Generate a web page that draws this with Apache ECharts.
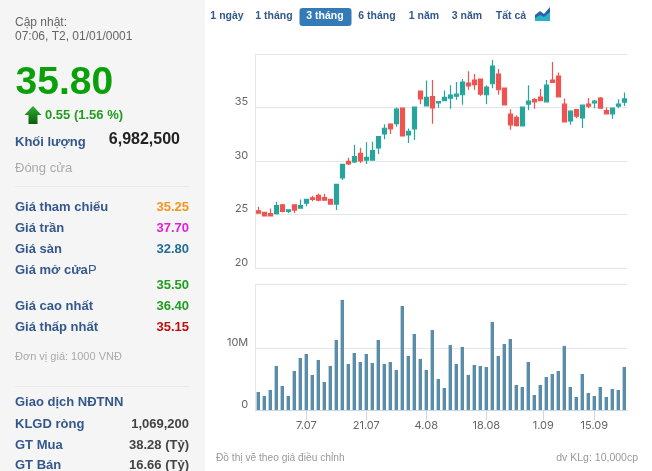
<!DOCTYPE html>
<html><head><meta charset="utf-8">
<style>html,body{margin:0;padding:0;background:#fff}#c{width:652px;height:471px}</style>
<script src="https://cdn.jsdelivr.net/npm/echarts@6/dist/echarts.min.js"></script>
</head><body><div id="c"></div>
<script>
const opens=[25.34,25.19,25.09,25.09,25.91,25.28,25.91,25.59,26.06,26.56,26.78,26.59,26.41,25.97,28.41,29.97,29.91,30.72,30.09,30.09,31.22,32.53,33.44,33.5,34.94,32.44,33.0,36.53,35.16,36.03,35.44,35.63,35.88,36.06,36.19,37.28,37.56,37.66,36.19,37.22,38.13,36.81,34.38,34.09,33.28,35.31,35.75,35.97,35.53,37.56,37.94,35.31,33.75,34.81,34.03,35.31,35.44,35.88,34.72,34.41,35.13,35.5];
const closes=[25.13,24.87,24.87,25.84,25.28,25.44,25.41,25.84,26.41,26.41,26.34,26.34,25.97,27.81,29.69,29.72,30.41,30.0,30.34,30.97,32.28,33.06,33.0,34.84,32.34,32.78,35.03,35.81,35.94,34.97,35.56,35.94,36.16,36.25,37.38,37.03,37.13,36.25,36.91,38.88,36.66,35.25,33.38,33.31,35.03,35.59,35.53,35.63,37.09,37.34,36.0,33.66,34.66,34.19,35.22,35.13,35.59,34.94,34.41,34.94,35.31,35.8];
const lows=[25.06,24.84,24.84,25.0,25.22,25.13,25.13,25.53,25.78,26.25,26.25,26.31,25.94,25.41,28.22,29.63,29.81,29.81,29.72,30.09,30.66,32.03,32.53,33.19,32.34,31.69,31.97,35.31,35.16,33.47,34.97,35.63,34.88,35.72,35.25,36.66,36.66,36.09,35.31,36.81,36.19,35.25,32.91,33.22,33.28,34.75,34.88,35.63,35.53,37.28,36.0,33.59,33.38,34.0,33.09,34.94,34.94,34.88,34.38,33.94,34.94,35.15];
const highs=[25.72,25.25,25.56,26.19,25.97,25.47,25.94,26.41,26.47,26.75,26.97,26.94,26.47,27.81,29.69,30.31,31.53,31.25,31.75,31.81,32.28,33.44,33.53,35.0,34.94,33.03,35.03,36.53,37.53,37.56,35.56,36.59,37.09,37.38,37.66,38.38,38.13,37.66,37.09,39.44,38.59,36.81,34.84,34.28,35.03,37.09,35.88,36.72,37.56,39.25,38.28,35.84,34.75,34.81,35.22,35.88,35.69,35.97,35.0,34.94,35.78,36.4];
const volumes=[2.92,2.27,3.24,7.14,3.89,2.27,6.32,8.43,9.08,5.68,8.11,4.54,7.14,11.35,17.84,7.46,9.24,7.78,9.08,7.62,11.35,7.46,7.78,6.49,16.86,8.76,12.32,8.27,6.49,12.97,5.03,3.57,10.54,7.46,10.22,5.68,7.30,7.14,6.97,14.27,8.76,10.70,11.51,4.05,3.73,7.78,2.43,4.05,5.35,5.84,6.32,10.38,3.73,2.11,5.84,2.76,2.27,3.73,2.11,3.41,3.24,6.98];
const tickIndex=[8,18,28,38,47.5,56];
const tickLabels=['7.07','21.07','4.08','18.08','1.09','15.09'];
const rangeButtons=[['1 ngày',227],['1 tháng',274],['3 tháng',325],['6 tháng',377],['1 năm',424],['3 năm',467],['Tất cả',511]];
const blue='#34588c';
const leftRows=[
 ['Khối lượng',142,blue,'bold 13px'],
 ['Giá tham chiếu',207,blue,'bold 13px'],['Giá trần',228,blue,'bold 13px'],['Giá sàn',249,blue,'bold 13px'],
 ['Giá mở cửa',270,blue,'bold 13px'],['Giá cao nhất',306,blue,'bold 13px'],['Giá thấp nhất',327,blue,'bold 13px'],
 ['Giao dịch NĐTNN',402,blue,'bold 13px'],['KLGD ròng',424,blue,'bold 13px'],['GT Mua',445,blue,'bold 13px'],['GT Bán',465,blue,'bold 13px'],
 ['Cập nhật:',22.5,'#666','12px'],['07:06, T2, 01/01/0001',37,'#666','12px'],
 ['Đóng cửa',168,'#aaa','13px'],['Đơn vị giá: 1000 VNĐ',357,'#aaa','11px']
];
const rightRows=[
 ['35.25',207,'#f7941d'],['37.70',228,'#e21fd8'],['32.80',249,'#1f6e94'],['35.50',285,'#1f9e1f'],
 ['36.40',306,'#1f9e1f'],['35.15',327,'#c00d0d'],['1,069,200',424,'#444'],['38.28 (Tỷ)',445,'#444'],['16.66 (Tỷ)',465,'#444']
];
const cats=volumes.map((_,i)=>i);
const T=(text,x,y,font,fill,align)=>({type:'text',z:5,style:{text,x,y,font:font+' "Liberation Sans",Arial,sans-serif',fill,align:align||'left',verticalAlign:'middle'}});
const graphic=[
 {type:'rect',z:-10,shape:{x:0,y:0,width:205,height:471},style:{fill:'#f5f5f5'}},
 {type:'line',z:1,shape:{x1:15,y1:186.5,x2:189,y2:186.5},style:{stroke:'#e9e9e9',lineWidth:1}},
 {type:'line',z:1,shape:{x1:15,y1:386.5,x2:189,y2:386.5},style:{stroke:'#e9e9e9',lineWidth:1}},
 {type:'rect',z:1,shape:{x:299.5,y:8,width:52,height:18,r:3},style:{fill:'#337ab7'}},
 {type:'polygon',z:2,shape:{points:[[33,106],[41.5,115],[37.5,115],[37.5,124],[28.5,124],[28.5,115],[24.5,115]]},
  style:{fill:new echarts.graphic.LinearGradient(0,0,0,1,[{offset:0,color:'#2fb02f'},{offset:1,color:'#0b5d0b'}])}},
 {type:'polygon',z:2,shape:{points:[[535,21],[535,15],[540,11],[544,14],[550,7],[550,21]]},style:{fill:'#2f5fa8'}},
 {type:'polygon',z:3,shape:{points:[[535,21],[535,18],[540,15],[544,17],[550,12],[550,21]]},style:{fill:'#27b3c4'}},
 T('35.80',15.5,83,'bold 39px','#0aa00a'),
 T('0.55 (1.56 %)',45,115,'bold 13px','#1f9e1f'),
 T('6,982,500',180,139.5,'bold 16px','#222','right'),
 T('P',88,270,'13px',blue),
 T('Đồ thị vẽ theo giá điều chỉnh',216,458,'10.2px','#999'),
 T('dv KLg: 10,000cp',638,458,'10.5px','#999','right')
];
rangeButtons.forEach(b=>graphic.push(T(b[0],b[1],16.5,'bold 10.5px',b[0]==='3 tháng'?'#fff':'#34588c','center')));
leftRows.forEach(r=>graphic.push(T(r[0],15,r[1],r[3],r[2])));
rightRows.forEach(r=>graphic.push(T(r[0],189,r[1],'bold 13px',r[2],'right')));
const gridLine={show:true,lineStyle:{color:'#e6e6e6',width:1}};
const sideLine={show:true,onZero:false,lineStyle:{color:'#e6e6e6',width:1}};
const chart=echarts.init(document.getElementById('c'),null,{renderer:'canvas'});
chart.setOption({
 animation:false,backgroundColor:'#fff',graphic,
 grid:[{left:255.3,width:372,top:54,height:214},{left:255.3,width:372,top:284.3,height:125.7}],
 xAxis:[
  {type:'category',gridIndex:0,data:cats,show:false},
  {type:'category',gridIndex:1,data:cats,axisLine:{show:true,lineStyle:{color:'#ccd6eb'}},axisTick:{show:false},axisLabel:{show:false},splitLine:{show:false}},
  {type:'value',gridIndex:1,position:'bottom',min:-0.5,max:61.5,splitLine:{show:false},axisLine:{show:false},
   axisTick:{show:true,length:10,customValues:tickIndex,lineStyle:{color:'#ccd6eb'}},
   axisLabel:{show:true,customValues:tickIndex,margin:10,color:'#666',fontFamily:'Inter',fontSize:11,hideOverlap:false,
    formatter:v=>tickLabels[tickIndex.indexOf(v)]||''}}
 ],
 yAxis:[
  {type:'value',gridIndex:0,min:20,max:40,interval:5,axisLine:sideLine,axisTick:{show:false},splitLine:gridLine,
   axisLabel:{color:'#666',fontFamily:'Inter',fontSize:11,verticalAlign:'bottom',margin:7,formatter:v=>v===40?'':String(v)}},
  {type:'value',gridIndex:1,min:0,max:20.37,axisLine:sideLine,
   axisTick:{show:false,customValues:[0,10,20.37]},splitLine:gridLine,
   axisLabel:{customValues:[0,10],color:'#666',fontFamily:'Inter',fontSize:11,verticalAlign:'bottom',margin:7,formatter:v=>v===0?'0':v+'M'}}
 ],
 series:[
  {type:'candlestick',xAxisIndex:0,yAxisIndex:0,barWidth:4,
   itemStyle:{color:'#26a69a',color0:'#ef5350',borderColor:'#26a69a',borderColor0:'#ef5350',borderWidth:1.2},
   data:opens.map((o,i)=>[o,closes[i],lows[i],highs[i]])},
  {type:'bar',xAxisIndex:1,yAxisIndex:1,barWidth:3.4,itemStyle:{color:'#5a8daa'},data:volumes}
 ]
});
</script></body></html>
